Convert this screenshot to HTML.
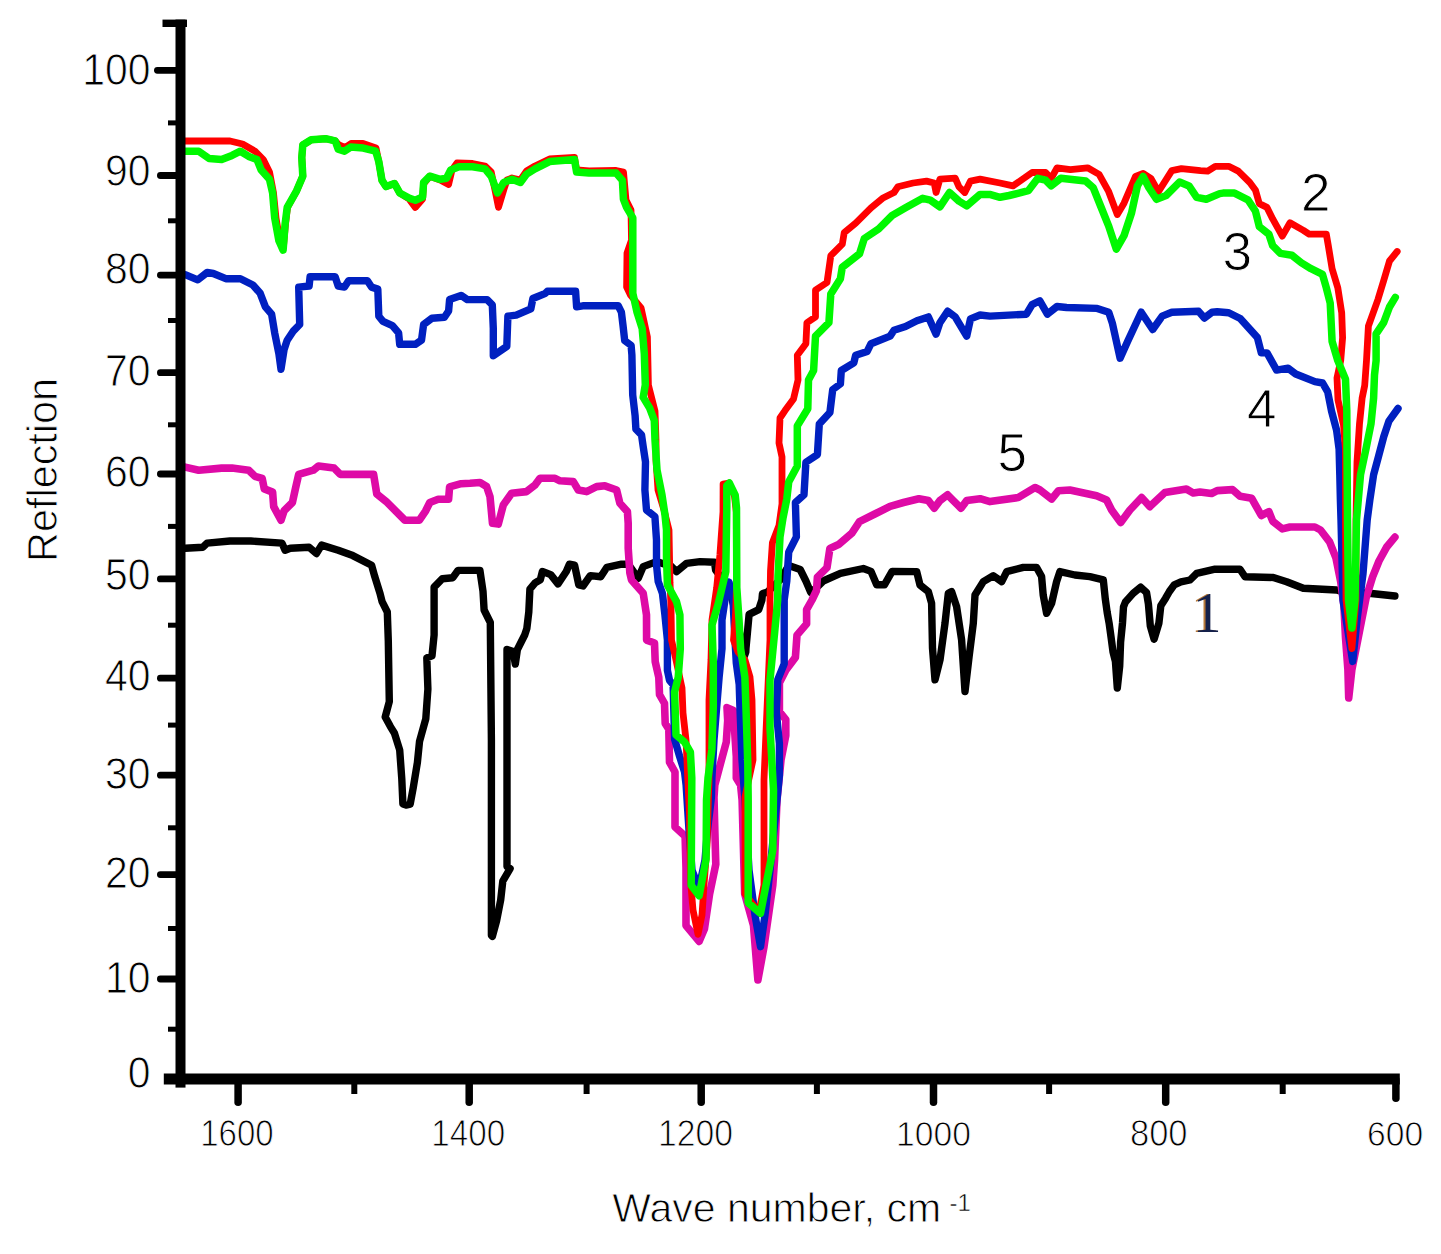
<!DOCTYPE html><html><head><meta charset="utf-8"><style>html,body{margin:0;padding:0;background:#fff;overflow:hidden;}svg{display:block;}text{font-family:"Liberation Sans",sans-serif;stroke:#fff;stroke-width:0.9px;paint-order:fill;}</style></head><body>
<svg width="1441" height="1254" viewBox="0 0 1441 1254">
<rect x="0" y="0" width="1441" height="1254" fill="#fff"/>
<g fill="none" stroke-width="7.2" stroke-linejoin="round" stroke-linecap="round">
<polyline stroke="#000" stroke-width="7.4" points="180,548.3 185.2,548.3 202.9,547.2 207.1,543.1 230,541 250.8,541 282,543.1 285.1,550.3 290.3,548.3 309.1,547.2 316.4,553.5 321.6,545.1 338.2,550.3 352.8,555.6 371.6,565.2 374.8,576.7 380,593.3 382.1,601.6 387.3,612 388.3,641.2 389.3,701.6 385.2,717 390.4,726.6 394.5,733.3 399.7,750 401.8,779.1 402.9,804.1 406,805.1 410.2,804.1 413.3,787.4 417.4,762.5 419.5,741.6 425.8,718.7 427.9,689.1 426.8,657.9 432,655.8 434.1,635 434.1,587.1 442.4,578.7 452.8,577.7 458,570.4 479.9,570.4 483,591.2 484.1,610 490.3,622.5 491.4,740 491.4,935.3 492.4,936.3 496.6,920.7 500.7,899.9 502.8,881.1 510.1,868.6 507,866.6 507,649.5 513.2,651.6 515.3,664.1 517.4,649.5 524.7,635 526.8,628.7 528.8,612 529.9,589.1 535.1,582.9 540.3,579.8 542.4,571.5 550.7,574.6 558,583.9 566.3,571.5 569.4,564.2 574.6,565.2 578.8,585 583,586 590.3,575.6 600.7,576.7 606.9,567.3 621.5,564.2 628.2,564.1 638.2,578.2 643.2,566.6 656.5,561.6 671.5,566.6 676.5,571.6 686.5,563.3 700,561.6 714.5,562.2 715.6,570 729,588 735,610 740,635 744,657 745.8,652 746,647.8 747.5,631.9 749.1,614.4 758.7,609.6 761.9,600 762.5,593.5 767,592.4 780,580 788.7,565.6 800.2,569.5 805.9,581 810.7,592.4 815.5,588.6 823.2,581 840.4,573.3 863.3,568.5 871,571.4 876.7,584.8 884.4,584.8 892.1,571.4 916.7,571.6 920,585 928.3,591.6 931.6,603.3 932.5,648.3 935,679.9 940,659.9 945,623.3 948.3,593.3 951.6,591.6 956.6,606.6 961.6,639.9 965,691.6 969.1,656.6 973.3,623.3 975,595 983.3,581.6 993.3,575.8 1001.7,581.6 1006.7,571.6 1023.3,567.4 1036.6,567.4 1041.6,576.6 1043.2,595 1046.6,613.3 1051.6,603.3 1056.6,581.6 1059.9,571.6 1074.9,575 1089.9,576.6 1103.3,579.9 1105.3,599.1 1107.2,612.5 1109.1,623.1 1111.1,637.4 1113,651.8 1115.4,661.3 1117.3,688.1 1119.7,666.1 1120.6,642.2 1122.5,623.1 1123.5,606.8 1125.4,602 1133.1,593.4 1140.7,587.2 1146.5,592.4 1148.4,603.9 1150.3,625.9 1154.1,639.3 1158.9,623.1 1160.8,605.8 1165.6,598.2 1169.4,591.5 1174.2,584.8 1180.9,581.9 1190,580 1196.7,573.3 1215,569.2 1240,569.2 1245,576.7 1273.3,577.5 1286.6,581.7 1303.3,588.3 1336.6,590 1341.6,591.5 1371.5,593.5 1394.9,596"/>
<polyline stroke="#de0aa6" stroke-width="7.6" points="180,467 185.2,467.1 198.7,470.2 221.6,468.1 232,468.1 248.7,470.2 255,476.4 262.2,478.5 264.3,488.9 272.6,492.1 273.7,506.6 281,520.2 284.1,510.8 292.4,502.5 295.6,487.9 298.7,474.4 313.3,470.2 318.5,466 334.1,468.1 340.3,474.4 373.6,474.4 376.8,494.1 386.1,501.4 404.9,520.2 419.4,520.2 425.7,510.8 429.8,502.5 438.2,499.3 448.6,499.3 449.6,486.8 461.1,483.7 470,483.3 480,482.5 486.6,486.6 490,496.6 492.5,523.3 498.3,524.1 503.3,505 511.6,493.3 526.6,491.6 535,485 540,478.3 555,478.3 560,480.8 573.3,481.6 578.3,490 586.6,491.6 596.6,486.6 604.9,485.8 616.6,490 619.9,503.3 627.4,511.6 628.2,523.3 628.2,548.3 629.9,573.2 631.5,579.9 643.2,593.2 646.5,614.9 646.6,640.1 654.5,643 655.2,661.6 658.8,677.4 659.5,694.7 664.5,703.3 665.2,723.4 668.8,729.1 669.5,762.2 675,772 675,827 685.1,836.1 686,867.7 686,925.6 699.1,941.4 704.4,929.1 709.6,894 715.8,864.2 714.9,832.6 714,797.5 714.8,785.1 720.5,763.6 726.3,742.1 727.7,720.5 727,707.6 733.4,710.5 734.9,734.9 736.3,756.4 736.3,778 740.6,785.1 742.1,800 743,832.6 744.7,894 753.5,925.6 757.9,980 764,946.7 772.8,885.3 774.6,859 777,800 781,760 785.8,735.6 785.8,719.6 779.4,711.6 779.4,682.9 785.8,670.2 795.4,657.4 797,635.1 806.6,623.9 806.6,609.6 812,600 816.5,590.5 817.4,577.1 827,567.6 829.9,548.4 838.5,544.6 851.9,533.1 859.5,521.6 874.8,514 890.1,506.3 903.5,502.5 918.9,498.7 928.4,500.6 934.2,508.2 939.9,500.6 947.6,494.8 953.3,500.6 961,508.2 966.7,500.6 980.1,498.7 990,501.6 1018.3,497.5 1035,487.5 1040,490 1051.6,499.1 1058.3,490.8 1069.9,490 1096.6,495.8 1106.6,500 1111.6,510 1120.7,522.5 1129.9,510 1141.6,497.5 1149.9,506.6 1164.9,492.5 1186.5,489.1 1193.2,493 1200,492 1211.5,493.5 1217.2,490.6 1232.5,489.6 1240.2,496.3 1251.7,498.3 1261.3,515.5 1268.9,511.7 1272.7,521.2 1282.3,528.9 1290,527 1314.9,527 1320.5,530 1329.6,541.9 1335.9,557.8 1340.7,581.7 1343.9,605.6 1345.5,637.5 1347.9,669.4 1348.7,698 1351.9,669.4 1356.7,645.5 1361.4,621.6 1366.2,597.6 1372.6,576.9 1379,561 1386.9,546.7 1394.9,537.1"/>
<polyline stroke="#0020c0" stroke-width="7.4" points="180,274.6 185.2,274.6 197.7,279.8 207.1,272.5 213.3,273.5 225.8,278.7 240.4,278.7 252.9,285 260.2,293.3 265.4,306.8 271.6,314.1 274.7,332.9 278.9,353.7 281,369.3 284.1,349.5 287.2,340.2 293.5,330.8 299.7,324.5 298.7,287.1 309.1,286 310.1,276.7 335.1,276.7 338.2,286 344.5,287.1 348.6,280.8 367.4,280.8 371.5,287.1 377.8,289.1 378.8,316.2 383,321.4 392.4,325.6 398.6,332.9 399.7,344.3 415.3,344.3 421.5,340.2 423.6,324.5 431.9,318.3 444.4,317.3 448.6,311 449.6,299.6 461.1,295.4 467.3,299.6 487.1,299.6 492.3,304.8 493.3,328.7 493.3,355.8 506.8,346.4 507.9,316.2 516.2,315.2 530.8,308.9 532.9,298.5 545.4,293.3 547.4,291.2 575.6,291.2 576.6,306.8 582.8,305.8 618.2,305.8 621.4,312.1 623.1,326.3 624.7,340.6 631.1,345.4 631.9,355 632.7,394.9 635.1,415.6 635.9,429.2 641.5,434.8 643.1,446 645.5,461.9 644.9,490 646.5,510 654.9,516.6 656.5,539.9 656.5,564.9 658.2,581.6 662.4,593.2 664.9,614.9 667.4,640 667.4,670.3 669.5,680.3 673.1,684.6 674.6,739.2 679.6,756.4 684.6,772.2 686.1,785.1 689,830 692,870 699,888 705,860 707.5,830 711.4,797.5 711.9,778 714,740 719.1,677.4 722,648.7 722,620 725,600 729,582 733,600 735,640 736.3,663.1 739.2,684.6 739.9,706.2 742,760 745,800 749,870 755,915 760.5,946.7 765,915 770,870 776,810 779.4,775.4 779.4,743.5 776.3,711.6 777.8,679.7 784.2,663.8 784.2,600 786.8,581 788.7,552.2 796.4,536.9 795.4,502.5 804,494.8 805.9,462.3 817.4,454.6 819.3,424 829.9,412.5 832.7,389.6 840.4,383.9 841.3,370.5 853.8,362.9 855.7,355.2 867.2,351.4 871,343.7 890.1,336.1 894,330.3 905.5,326.5 916.9,320.8 928.4,316.9 936.1,334.2 939.9,322.7 947.6,311.2 955.2,316.9 966.7,336.1 970.5,318.9 980.1,315 990,316.1 1026.4,314.2 1032.1,304.6 1039.8,300.8 1047.4,314.2 1057,306.5 1066.6,307.5 1097.2,308.4 1108.7,312.2 1112.5,323.7 1120.1,358.2 1127.8,341 1141.2,312.2 1152.7,329.5 1162.2,316.1 1171.8,312.2 1198.6,311.3 1204.4,318 1212,312.2 1217.2,311.8 1228.7,312.7 1240.2,318.5 1257.4,337.6 1261.3,352.9 1267,352.9 1276.6,370.1 1288.1,368.2 1295.7,374 1314.9,381.6 1322.6,383 1327.7,391.9 1331.5,411 1336.6,430.2 1339.1,449.3 1339.8,474.8 1340.4,500.3 1341,520 1343,600 1352.7,661.4 1357,620 1363,573.7 1367.2,520 1369.8,500.3 1373.6,474.8 1378.7,455.7 1383.8,436.5 1388.9,421.2 1398,408.5"/>
<polyline stroke="#ff0000" stroke-width="6.8" points="180,141 230,141 242.5,144 255,151.2 263.3,159.6 269.5,172 273.5,193 276,218 279.5,238 283.5,246 285.5,224 287.5,207.4 296.6,190.8 302.8,176.2 301.8,157.5 302.8,145 311.2,139.8 325.7,138.7 335.1,140.8 339,145 345,147.5 351,143.5 363,143.5 376,148 378.8,161.6 382,180.4 386.1,186.6 394.5,183.5 399.7,192.9 409,199 415.3,207.4 422.6,199 423.6,184 429.8,176.2 440.2,180 448.6,184.5 452,170 457,163 472.5,163.5 485,166 491.2,172 495,190 498.5,207.4 503.7,190 507,180 512,178 520.4,180 526.6,171 535,166 549.5,159 574.5,157.5 576.6,170 589.1,171 616.2,170.5 623.5,172 626,200 631,210 631.5,240 627,253 626.6,287 630.7,295.4 641.1,307.9 647.4,337 648.4,385 655,411 656,440 656,460 658,490 664,510 669,530 670,583 671,606 671.5,640 676,660 682,688 683,713 686,740 689.5,815 690.5,880 693,910 698,934.4 702,915 704,885 707,845 709,780 709,700 711,660 712,620 716.7,587.6 719.9,555 723,512 723.1,484 729,483 734.5,496 736.3,512 736.5,587 735.5,615 733.5,640 738,652 745,660 750,677 752,700 753,760 745,797 745,894 759,912 764,885 764,780 766,732 770,640 770,600 770.5,571 772.4,542.7 779,525.5 782,504 782,457 779,443 780,418 785,410.6 793.5,399 798,380 797.3,355.2 805.9,343.7 806.9,322.7 815.5,316.9 815.5,290.1 827,282.5 830.8,255.7 842.3,244.2 844.2,232.7 855.7,223.2 871,207.8 882.5,198.3 894,192.5 897.8,186.8 913.1,183 926.5,181.1 934.2,183 936.1,192.5 939.9,179.1 955.2,178.2 959,186.8 964.8,192.5 970.5,181.1 980.1,179.1 1000,183 1013,185.9 1032.1,172.5 1045.5,172.5 1051.2,178.3 1057,167.8 1070.4,169.7 1087.6,167.8 1099.1,174.4 1108.7,191.7 1117.3,214.6 1124,203.2 1135.5,176.4 1143.1,173.5 1150.8,178.3 1158.4,191.7 1171.8,170.6 1181.4,168.7 1200.5,170.6 1207.7,171.1 1215.3,166.3 1228.7,166.3 1238.3,171.1 1249.8,182.5 1255.5,190.2 1259.3,203.6 1267,207.4 1272.7,218.9 1282.3,236.1 1290,222.7 1303.4,230.4 1309.1,234.2 1326.3,234.2 1328.3,245.7 1332.1,268.7 1337.8,287.8 1341.7,312.7 1342.6,337.6 1340.7,360.6 1337,378 1338,400 1343.5,425 1345.5,450 1345.5,526 1346,600 1351.9,648.6 1356,600 1356,520 1357,462 1359.5,423.8 1362.1,398.3 1364.7,385.5 1366.5,360.6 1368.4,326.1 1378,299.3 1383.8,280.2 1389.5,261 1397.2,251.5"/>
<polyline stroke="#00f800" stroke-width="7.5" points="180,151.2 198.7,151.2 209.1,158.5 221.6,159.6 232,155.4 240.4,151.2 248.7,156.4 257,159.6 261.2,170 269.5,179.3 272.6,192.9 274.7,217.9 278.9,240.8 283.1,250.1 285.1,224.1 287.2,207.4 296.6,190.8 302.8,176.2 301.8,157.5 302.8,145 311.2,139.8 325.7,138.7 335.1,140.8 338.2,149.1 344.5,151.2 350.7,147.1 363.2,148.1 375.7,151.2 378.8,161.6 382,180.4 386.1,186.6 394.5,183.5 399.7,192.9 409,198.1 415.3,200.2 422.6,197 423.6,182.5 429.8,176.2 440.2,179.3 446.5,178.3 450.7,170 459,166.8 472.5,166.8 485,168.9 491.2,176.2 497.5,192.9 503.7,182.5 512.1,179.3 520.4,182.5 526.6,174.1 535,168.9 549.5,161.6 574.5,159.6 576.6,172 589.1,173.1 616.2,173.1 622.4,180.4 623.4,199.1 626.6,207.4 632.8,217.9 632.8,293.3 637,312.1 642.2,328.7 644.3,353.7 645.3,384.9 643.2,397.4 649.5,407.7 654.3,420.4 655,440 657,470 662,495 665,515 666.5,530 666.5,556.6 667.4,584.9 676.5,601.6 679.9,614.9 680.3,648.7 678.2,677.4 674.6,691.8 676,734.9 684.6,742.1 690.4,752.1 691.8,778 691.2,885.3 699.1,895.8 706.1,859 706.5,800 708,778 711.9,749.2 713.3,706.2 713.3,663.1 712,625 718.3,603.5 725.8,571.6 726.8,507.8 726.8,485.5 729.4,483.1 735.2,495.1 736.5,507.8 736.8,587.6 739,619.5 740.6,648.7 744.9,677.4 746.4,720.5 747.8,763.6 748.2,800 748.2,902.8 760.5,913.3 772.8,850.2 773.5,790 770,728 770,680 774.7,632 777.7,600 778,576 779,556.6 780,537 783,518 786.8,499 788.7,482 797.3,466 797.3,425.9 807.8,408.7 808.5,380 813.6,370.5 815.5,336.1 828.9,322.7 830.8,294 840.4,278.7 842.3,267.2 859.5,253.8 864.3,238.5 878.7,228.9 892.1,215.5 905.5,207.8 922.7,198.3 930.3,200.2 939.9,206.9 949.5,192.5 959,201.1 966.7,205.9 980.1,194.4 989.7,194.4 1000,197.3 1009.1,195.5 1028.3,190.7 1037.8,178.3 1045.5,180.2 1051.2,185.9 1060.8,178.3 1085.7,181.1 1093.3,187.8 1101,207 1108.7,226.1 1116.3,249.1 1124,235.7 1131.6,212.7 1137.4,185.9 1143.1,176.4 1148.9,187.8 1156.5,199.3 1166.1,195.5 1179.5,182.1 1189,185.9 1196.7,197.4 1206.3,199.3 1219.7,193.6 1223,193.1 1234.5,193.1 1247.9,199.8 1255.5,211.3 1259.3,226.6 1268.9,234.2 1272.7,245.7 1280.4,253.4 1291.9,255.3 1301.5,262.9 1311,268.7 1322.5,274.4 1326.3,287.8 1330.2,303.1 1332.1,341.4 1337.8,360.6 1345.5,379.1 1346.8,411 1347.5,520 1348.5,600 1351.9,628 1355,600 1356.5,520 1360.5,474.8 1365.9,449.3 1371,423.8 1373.6,398 1374.5,375 1376.1,360.6 1376.1,333.8 1383.8,322.3 1389.5,307 1395.3,297.4"/>
</g>
<g fill="#000">
<rect x="175.5" y="19.6" width="10" height="1068"/>
<rect x="162.5" y="19.6" width="24.5" height="7.4"/>
<rect x="163.8" y="1073.5" width="1236" height="11"/>
<line x1="157.4" y1="70.3" x2="178" y2="70.3" stroke="#000" stroke-width="6.8" stroke-linecap="round"/>
<line x1="160.4" y1="175.5" x2="178" y2="175.5" stroke="#000" stroke-width="6.8" stroke-linecap="round"/>
<line x1="160.4" y1="275.1" x2="178" y2="275.1" stroke="#000" stroke-width="6.8" stroke-linecap="round"/>
<line x1="160.4" y1="372.7" x2="178" y2="372.7" stroke="#000" stroke-width="6.8" stroke-linecap="round"/>
<line x1="160.4" y1="474" x2="178" y2="474" stroke="#000" stroke-width="6.8" stroke-linecap="round"/>
<line x1="160.4" y1="578.9" x2="178" y2="578.9" stroke="#000" stroke-width="6.8" stroke-linecap="round"/>
<line x1="160.4" y1="678.2" x2="178" y2="678.2" stroke="#000" stroke-width="6.8" stroke-linecap="round"/>
<line x1="160.4" y1="775.2" x2="178" y2="775.2" stroke="#000" stroke-width="6.8" stroke-linecap="round"/>
<line x1="160.4" y1="874.6" x2="178" y2="874.6" stroke="#000" stroke-width="6.8" stroke-linecap="round"/>
<line x1="160.4" y1="979" x2="178" y2="979" stroke="#000" stroke-width="6.8" stroke-linecap="round"/>
<rect x="168" y="120.4" width="8" height="5"/>
<rect x="168" y="218.3" width="8" height="5"/>
<rect x="168" y="318.0" width="8" height="5"/>
<rect x="168" y="422.3" width="8" height="5"/>
<rect x="168" y="523.9" width="8" height="5"/>
<rect x="168" y="622.7" width="8" height="5"/>
<rect x="168" y="722.6" width="8" height="5"/>
<rect x="168" y="825.3" width="8" height="5"/>
<rect x="168" y="926.0" width="8" height="5"/>
<rect x="168" y="1026.7" width="8" height="5"/>
<line x1="238.1" y1="1080" x2="238.1" y2="1102.25" stroke="#000" stroke-width="7.5" stroke-linecap="round"/>
<line x1="469.2" y1="1080" x2="469.2" y2="1102.25" stroke="#000" stroke-width="7.5" stroke-linecap="round"/>
<line x1="701.2" y1="1080" x2="701.2" y2="1102.25" stroke="#000" stroke-width="7.5" stroke-linecap="round"/>
<line x1="933.5" y1="1080" x2="933.5" y2="1102.25" stroke="#000" stroke-width="7.5" stroke-linecap="round"/>
<line x1="1165.7" y1="1080" x2="1165.7" y2="1102.25" stroke="#000" stroke-width="7.5" stroke-linecap="round"/>
<line x1="1395.9" y1="1080" x2="1395.9" y2="1098.25" stroke="#000" stroke-width="7.5" stroke-linecap="round"/>
<rect x="351.30" y="1080" width="6" height="14"/>
<rect x="583.60" y="1080" width="6" height="14"/>
<rect x="813.90" y="1080" width="6" height="14"/>
<rect x="1046.10" y="1080" width="6" height="14"/>
<rect x="1279.70" y="1080" width="6" height="14"/>
</g>
<g font-size="44" text-anchor="end" fill="#000">
<text transform="translate(150.5,84.6) scale(0.93,1)">100</text>
<text transform="translate(150.5,185.5) scale(0.93,1)">90</text>
<text transform="translate(150.5,284.1) scale(0.93,1)">80</text>
<text transform="translate(150.5,385.6) scale(0.93,1)">70</text>
<text transform="translate(150.5,487.2) scale(0.93,1)">60</text>
<text transform="translate(150.5,589.7) scale(0.93,1)">50</text>
<text transform="translate(150.5,690.8) scale(0.93,1)">40</text>
<text transform="translate(150.5,789.2) scale(0.93,1)">30</text>
<text transform="translate(150.5,887.7) scale(0.93,1)">20</text>
<text transform="translate(150.5,992.9) scale(0.93,1)">10</text>
<text transform="translate(150.5,1088.4) scale(0.93,1)">0</text>
</g>
<g font-size="36" text-anchor="middle" fill="#000">
<text transform="translate(236.9,1145.8) scale(0.918,1)" x="0" y="0">1600</text>
<text transform="translate(468.25,1145.8) scale(0.922,1)" x="0" y="0">1400</text>
<text transform="translate(695.6,1145.8) scale(0.937,1)" x="0" y="0">1200</text>
<text transform="translate(933.45,1145.8) scale(0.935,1)" x="0" y="0">1000</text>
<text transform="translate(1158.75,1145.8) scale(0.96,1)" x="0" y="0">800</text>
<text transform="translate(1395.15,1145.8) scale(0.935,1)" x="0" y="0">600</text>
</g>
<text transform="translate(612.3,1221.6) scale(0.988,1)" font-size="41.5" fill="#000">Wave number, cm</text>
<text x="949.5" y="1210.7" font-size="24" fill="#000" style="stroke-width:0.5px">-1</text>
<text transform="translate(57,561.9) rotate(-90) scale(0.962,1)" font-size="43" fill="#000">Reflection</text>
<g font-size="53" fill="#000">
<text x="1301" y="211.3">2</text>
<text x="1222.5" y="269.6">3</text>
<text x="1247" y="427.4">4</text>
<text x="997.5" y="470.5">5</text>
</g>
<g font-size="57.5"><text x="1190.8" y="631.7" fill="#b87a3a" style="stroke:none;font-family:'Liberation Serif',serif">1</text><text x="1192.7" y="631.7" fill="#14204a" style="stroke:none;font-family:'Liberation Serif',serif">1</text></g>
</svg></body></html>
